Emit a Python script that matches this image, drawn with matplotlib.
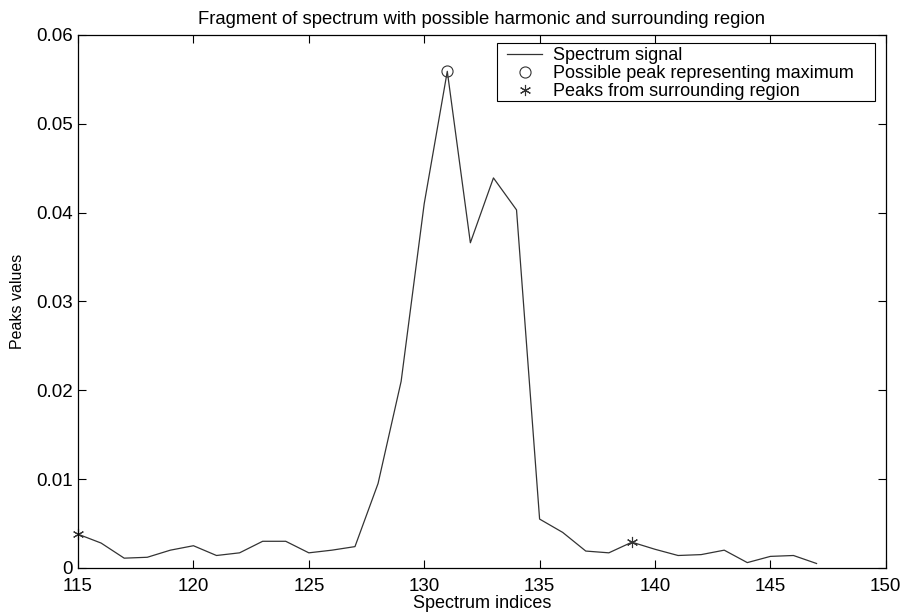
import matplotlib.pyplot as plt
from matplotlib.patches import Rectangle
import numpy as np

plt.rcParams['font.family'] = ['Liberation Sans', 'DejaVu Sans']

# spectrum fragment
idx = np.arange(115, 148)
vals = [0.0038, 0.0028, 0.0011, 0.0012, 0.0020, 0.0025, 0.0014, 0.0017,
        0.0030, 0.0030, 0.0017, 0.0020, 0.0024, 0.0095, 0.0210, 0.0410,
        0.0559, 0.0366, 0.0439, 0.0403, 0.0055, 0.0040, 0.0019, 0.0017,
        0.0029, 0.0021, 0.0014, 0.0015, 0.0020, 0.0006, 0.0013, 0.0014,
        0.0005]

peak_x = [131]
peak_y = [0.0559]
surr_x = [115, 139]
surr_y = [0.0038, 0.0029]

fig = plt.figure(figsize=(9, 6.12), dpi=100)
ax = fig.add_axes([0.0867, 0.072, 0.8975, 0.871])

ax.plot(idx, vals, color='#333333', lw=0.9, label='Spectrum signal')
ax.plot(peak_x, peak_y, ls='none', marker='o', ms=8, mfc='none', mec='#333333',
        mew=0.8, label='Possible peak representing maximum', clip_on=False)
ax.plot(surr_x, surr_y, ls='none', marker=(6, 2, 0), ms=8, color='#333333',
        mew=0.8, label='Peaks from surrounding region', clip_on=False)

ax.set_xlim(115, 150)
ax.set_ylim(0, 0.06)
ax.set_xticks(np.arange(115, 151, 5))
ax.set_yticks(np.arange(0, 0.061, 0.01))
ax.set_yticklabels(['0', '0.01', '0.02', '0.03', '0.04', '0.05', '0.06'])
ax.tick_params(direction='in', top=True, right=True, labelsize=13.5, length=6)
ax.tick_params(axis='x', pad=7)
for s in ax.spines.values():
    s.set_linewidth(0.9)

ax.set_xlabel('Spectrum indices', fontsize=13, labelpad=0)
ax.set_ylabel('Peaks values', fontsize=11.5, labelpad=8)
ax.set_title('Fragment of spectrum with possible harmonic and surrounding region',
             fontsize=13.3, pad=8)

# legend: text without frame, box drawn as a plain rectangle (matlab look)
leg = ax.legend(loc='upper left', fontsize=13, frameon=False,
                borderaxespad=0, borderpad=0, handlelength=1.95,
                handletextpad=0.6, labelspacing=0.05,
                bbox_to_anchor=(0.531, 0.977))
box = Rectangle((0.5186, 0.8762), 0.4678, 0.1088, transform=ax.transAxes,
                fill=True, facecolor='white', edgecolor='black', lw=0.8,
                zorder=4)
ax.add_patch(box)
leg.set_zorder(5)

plt.savefig('out.png')
plt.close()
